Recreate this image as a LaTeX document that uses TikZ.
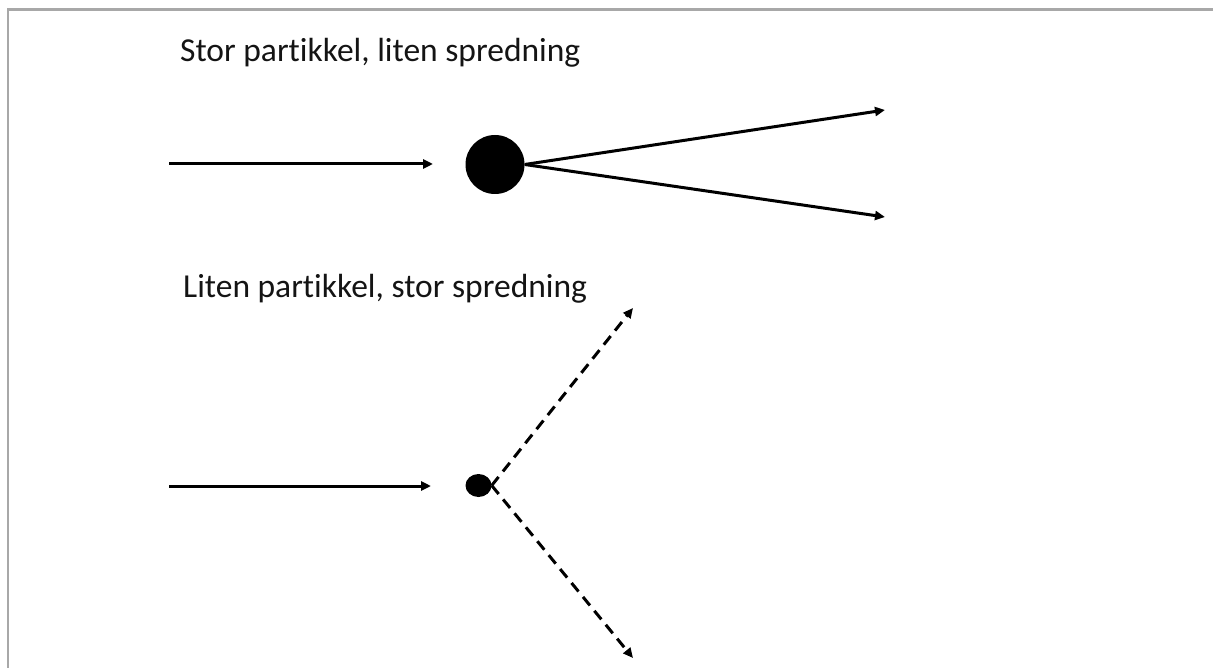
\documentclass[tikz,border=0pt]{standalone}
\usepackage{fontspec}
\setmainfont{Carlito}[RawFeature=-liga]
\usetikzlibrary{arrows.meta,shapes.geometric}
\tikzset{
  frameline/.style={draw={rgb,255:red,168;green,168;blue,168}, line width=2.5pt},
  label/.style={anchor=base west, inner sep=0pt, font=\fontsize{33.5}{40}\selectfont, text={rgb,255:red,20;green,20;blue,20}},
  ray/.style={line width=3pt, -{Triangle[length=10pt,width=9pt]}},
  dray/.style={ray, dash pattern=on 11pt off 7pt},
  particle/.style={fill=black, draw=none, inner sep=0pt}
}
\begin{document}
\begin{tikzpicture}[x=1pt,y=-1pt]
\useasboundingbox (0,0) rectangle (1215,668);
% frame
\coordinate (fbl) at (8,668);
\coordinate (ftl) at (8,9.5);
\coordinate (ftr) at (1213,9.5);
\draw[frameline] (fbl) -- (ftl) -- (ftr);
% labels
\node[label] (t1) at (180,62) {Stor partikkel, liten spredning};
\node[label] (t2) at (183,298) {Liten partikkel, stor spredning};
% top scene
\node[particle, circle, minimum size=59pt] (big) at (495,164.5) {};
\coordinate (a1s) at (169,164);
\coordinate (a1e) at (433,164);
\draw[ray] (a1s) -- (a1e);
\coordinate (o1) at (885,110);
\coordinate (o2) at (885,217);
\draw[ray] (big.east) -- (o1);
\draw[ray] (big.east) -- (o2);
% bottom scene
\node[particle, ellipse, minimum width=26pt, minimum height=23pt] (small) at (478.5,485.5) {};
\coordinate (a2s) at (169,486);
\coordinate (a2e) at (431,486);
\draw[ray] (a2s) -- (a2e);
\coordinate (d1) at (633,308);
\coordinate (d2) at (633,658);
\draw[dray] (small.east) -- (d1);
\draw[dray] (small.east) -- (d2);
\end{tikzpicture}
\end{document}
